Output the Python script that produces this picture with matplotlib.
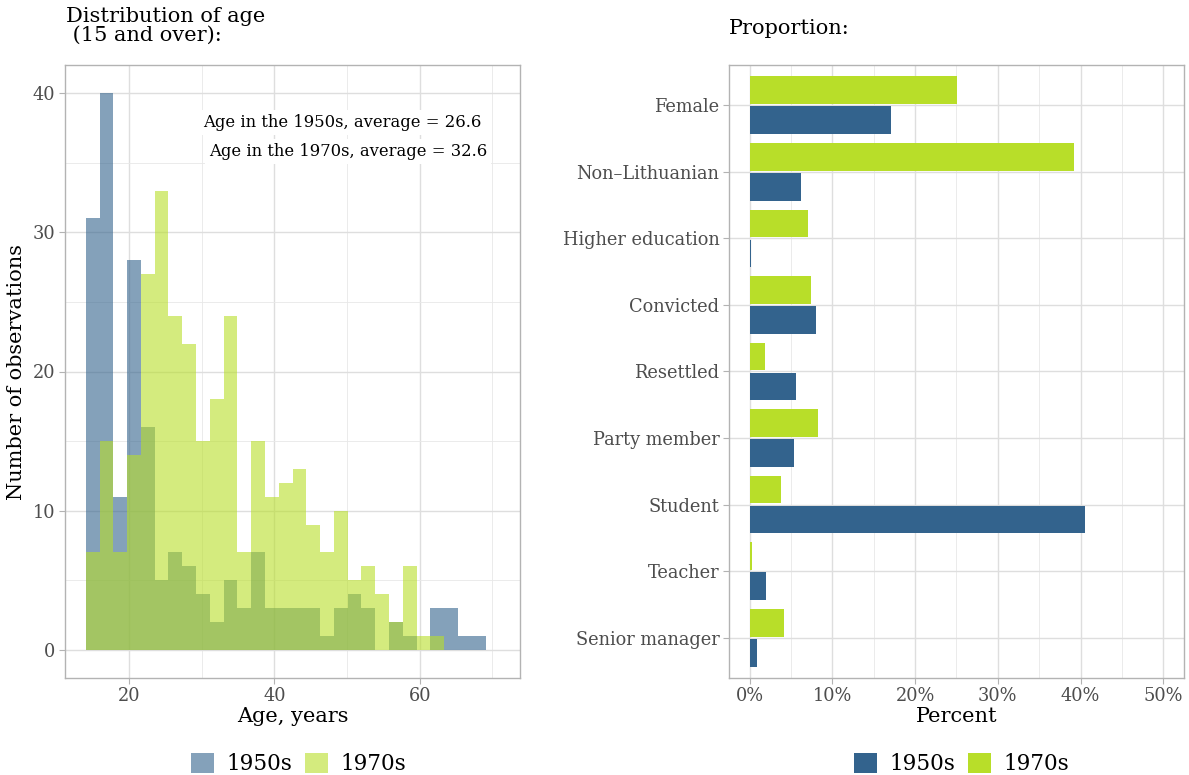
import numpy as np
import matplotlib
matplotlib.use("Agg")
import matplotlib.pyplot as plt
from matplotlib.patches import Patch
from matplotlib.ticker import MultipleLocator, FuncFormatter

# ==========================================================
# DATA
# ==========================================================

bin_left = 14.05
bin_width = 1.897

count_1950s = [31, 40, 11, 28, 16, 5, 7, 6, 4, 2,
               5, 3, 7, 3, 3, 3, 3, 1, 3, 4,
               3, 0, 2, 1, 0, 3, 3, 1, 1, 0]

count_1970s = [7, 15, 7, 14, 27, 33, 24, 22, 15, 18,
               24, 7, 15, 11, 12, 13, 9, 7, 10, 5,
               6, 4, 2, 6, 1, 1, 0, 0, 0, 0]

mean_1950s = 26.6
mean_1970s = 32.6

categories = [
    "Female",
    "Non\u2013Lithuanian",
    "Higher education",
    "Convicted",
    "Resettled",
    "Party member",
    "Student",
    "Teacher",
    "Senior manager"
]

pct_1950s = [17.1, 6.2, 0.15, 8.0, 5.6, 5.4, 40.5, 2.0, 0.9]
pct_1970s = [25.1, 39.2, 7.1, 7.4, 1.8, 8.3, 3.8, 0.3, 4.2]

groups = ["1950s", "1970s"]

# ==========================================================
# STYLE
# ==========================================================

BLUE = "#33638D"
GREEN = "#B8DE29"
BORDER = "#B3B3B3"
TICK_TXT = "#4D4D4D"

plt.rcParams["font.family"] = ["DejaVu Serif"]


def style_axes(ax):

    for s in ax.spines.values():
        s.set_color(BORDER)
        s.set_linewidth(1.0)

    ax.tick_params(
        which="major",
        color=BORDER,
        length=4,
        width=0.8,
        labelcolor=TICK_TXT,
        labelsize=12.8,
        pad=3
    )

    ax.tick_params(which="minor", length=0)

    ax.grid(which="major", color="#DEDEDE", linewidth=1.0)
    ax.grid(which="minor", color="#E8E8E8", linewidth=0.6)

    ax.set_axisbelow(True)


def add_legend(x_px, alpha):

    fig.legend(
        handles=[
            Patch(facecolor=BLUE, alpha=alpha, label=groups[0]),
            Patch(facecolor=GREEN, alpha=alpha, label=groups[1])
        ],
        loc="center",
        bbox_to_anchor=(x_px / 1189, 1 - 764 / 775),
        ncol=2, frameon=False, fontsize=15.5,
        handlelength=1.08, handleheight=1.08,
        handletextpad=0.55, columnspacing=0.6,
        borderpad=0
    )


fig = plt.figure(figsize=(11.89, 7.75), dpi=100)

# ==========================================================
# LEFT: AGE HISTOGRAM
# ==========================================================

ax1 = fig.add_axes([65 / 1189, 97.3 / 775, 455 / 1189, 612.4 / 775])

edges = bin_left + bin_width * np.arange(len(count_1950s) + 1)

ax1.bar(
    edges[:-1], count_1950s,
    width=bin_width, align="edge",
    color=BLUE, alpha=0.6, linewidth=0
)

ax1.bar(
    edges[:-1], count_1970s,
    width=bin_width, align="edge",
    color=GREEN, alpha=0.6, linewidth=0
)

ax1.set_xlim(11.2, 73.8)
ax1.set_ylim(-2, 42)

ax1.xaxis.set_major_locator(MultipleLocator(20))
ax1.xaxis.set_minor_locator(MultipleLocator(10))
ax1.yaxis.set_major_locator(MultipleLocator(10))
ax1.yaxis.set_minor_locator(MultipleLocator(5))

style_axes(ax1)

ax1.set_xlabel("Age, years", fontsize=15, labelpad=1)
ax1.set_ylabel("Number of observations", fontsize=15, labelpad=5)

ax1.text(
    49.4, 37.9,
    f"Age in the 1950s, average = {mean_1950s}",
    ha="center", va="center", fontsize=11.8,
    bbox=dict(facecolor="white", edgecolor="none", pad=3)
)

ax1.text(
    50.1, 35.8,
    f"Age in the 1970s, average = {mean_1970s}",
    ha="center", va="center", fontsize=11.8,
    bbox=dict(facecolor="white", edgecolor="none", pad=3)
)

fig.text(
    66 / 1189, 1 - 7 / 775,
    "Distribution of age\n (15 and over):",
    ha="left", va="top", fontsize=15, linespacing=1.0
)

add_legend(298.5, 0.6)

# ==========================================================
# RIGHT: PROPORTIONS
# ==========================================================

ax2 = fig.add_axes([729 / 1189, 97.3 / 775, 455 / 1189, 612.4 / 775])

ypos = np.arange(len(categories))[::-1] + 1

ax2.barh(ypos + 0.2255, pct_1970s, height=0.415, color=GREEN, linewidth=0)
ax2.barh(ypos - 0.2255, pct_1950s, height=0.415, color=BLUE, linewidth=0)

ax2.set_xlim(-2.5, 52.5)
ax2.set_ylim(0.4, 9.6)

ax2.set_yticks(ypos)
ax2.set_yticklabels(categories)

ax2.xaxis.set_major_locator(MultipleLocator(10))
ax2.xaxis.set_minor_locator(MultipleLocator(5))
ax2.xaxis.set_major_formatter(FuncFormatter(lambda v, p: f"{v:.0f}%"))

style_axes(ax2)

ax2.set_xlabel("Percent", fontsize=15, labelpad=1)

fig.text(
    729 / 1189, 1 - 19 / 775,
    "Proportion:",
    ha="left", va="top", fontsize=15
)

add_legend(961.5, 1.0)

fig.savefig("out.png", dpi=100)
